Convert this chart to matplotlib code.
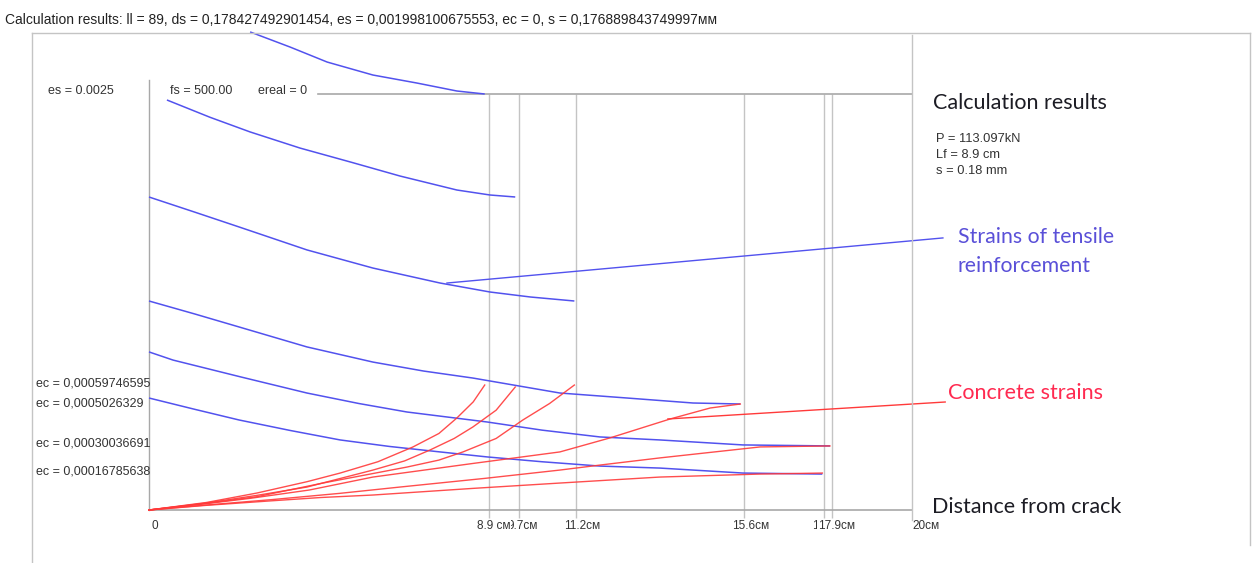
import matplotlib
matplotlib.use("Agg")
import matplotlib.pyplot as plt
from matplotlib.lines import Line2D

W, H = 1254, 563

# ---------------- data (x in cm, strain) ----------------
steel_x = [
    [2.65, 3.70, 4.67, 5.87, 7.02, 8.07, 8.80],
    [0.47, 1.60, 2.65, 3.96, 5.30, 6.58, 8.07, 8.94, 9.60],
    [0.00, 1.20, 2.36, 4.14, 5.87, 7.63, 8.94, 10.00, 11.15],
    [0.00, 1.20, 2.36, 4.14, 5.87, 7.20, 8.49, 10.77, 12.53, 14.26, 15.50],
    [0.00, 0.63, 2.40, 4.14, 5.50, 6.76, 8.86, 10.30, 11.82, 13.39, 15.57, 17.85],
    [0.00, 1.20, 2.36, 3.70, 5.01, 6.30, 7.63, 8.86, 10.30, 11.82, 13.39, 15.57, 17.65],
]
steel_y = [
    [0.002873, 0.002782, 0.002692, 0.002614, 0.002566, 0.002518, 0.002500],
    [0.002464, 0.002360, 0.002272, 0.002175, 0.002090, 0.002007, 0.001923, 0.001893, 0.001881],
    [0.001881, 0.001790, 0.001701, 0.001563, 0.001454, 0.001364, 0.001310, 0.001280, 0.001256],
    [0.001256, 0.001178, 0.001100, 0.000980, 0.000889, 0.000835, 0.000793, 0.000703, 0.000673, 0.000643, 0.000637],
    [0.000950, 0.000901, 0.000800, 0.000703, 0.000640, 0.000589, 0.000529, 0.000480, 0.000439, 0.000421, 0.000391, 0.000385],
    [0.000673, 0.000605, 0.000541, 0.000478, 0.000421, 0.000382, 0.000349, 0.000319, 0.000290, 0.000264, 0.000252, 0.000222, 0.000216],
]

concrete_x = [
    [0.0, 1.50, 2.83, 4.14, 5.01, 6.00, 6.92, 7.60, 8.07, 8.50, 8.80],
    [0.0, 1.50, 2.83, 4.14, 5.87, 6.70, 7.37, 8.00, 8.49, 9.10, 9.60],
    [0.0, 1.50, 2.83, 4.56, 6.76, 7.60, 8.23, 9.10, 9.80, 10.50, 11.15],
    [0.0, 1.50, 2.65, 4.20, 5.87, 8.50, 10.77, 12.08, 13.66, 14.71, 15.50],
    [0.0, 1.50, 3.20, 5.00, 6.58, 8.80, 10.77, 11.82, 13.39, 16.02, 17.85],
    [0.0, 1.50, 3.20, 4.50, 5.87, 8.50, 10.77, 13.39, 16.02, 17.65],
]
concrete_y = [
    [0.0, 0.000045, 0.000102, 0.000170, 0.000222, 0.000290, 0.000379, 0.000460, 0.000553, 0.000650, 0.000751],
    [0.0, 0.000042, 0.000088, 0.000138, 0.000240, 0.000295, 0.000361, 0.000430, 0.000499, 0.000600, 0.000739],
    [0.0, 0.000040, 0.000080, 0.000162, 0.000258, 0.000300, 0.000349, 0.000430, 0.000541, 0.000640, 0.000751],
    [0.0, 0.000038, 0.000070, 0.000120, 0.000198, 0.000280, 0.000349, 0.000433, 0.000547, 0.000613, 0.000637],
    [0.0, 0.000030, 0.000062, 0.000100, 0.000138, 0.000190, 0.000240, 0.000270, 0.000313, 0.000379, 0.000385],
    [0.0, 0.000028, 0.000055, 0.000075, 0.000090, 0.000130, 0.000162, 0.000198, 0.000216, 0.000222],
]

tick_vals = [0, 9.7, 8.9, 11.2, 15.6, 17.7, 17.9, 20]
tick_labels = ["0", "9.7см", "8.9 см", "11.2см", "15.6см", "17.7см", "17.9см", "20см"]

ec_labels = ["ec = 0,00059746595", "ec = 0,0005026329", "ec = 0,00030036691", "ec = 0,00016785638"]
ec_label_py = [383, 403, 443, 472]

title = ("Calculation results: ll = 89, ds = 0,178427492901454, es = 0,001998100675553, "
         "ec = 0, s = 0,176889843749997мм")
results = ["P = 113.097kN", "Lf = 8.9 cm", "s = 0.18 mm"]

# ---------------- styling ----------------
BLUE = "#5252ee"
RED = "#ff3a3a"
GRID = "#c4c4c4"
AXC = "#a8a8a8"
SMALL = dict(family=["Liberation Sans", "DejaVu Sans"], fontsize=9, color="#333333")
BIG = ["Lato", "DejaVu Sans"]


def fx(px):
    return px / W


def fy(py):
    return 1 - py / H


fig = plt.figure(figsize=(W / 100, H / 100), dpi=100)
fig.patch.set_facecolor("white")

# outer frame
for xs, ys in [([32, 32], [33, 563]), ([32, 1250], [33, 33]), ([1250, 1250], [33, 545]),
               ([912, 912], [35, 520])]:
    fig.add_artist(Line2D([fx(v) for v in xs], [fy(v) for v in ys], color=GRID, lw=1.0))

ax = fig.add_axes([fx(149), fy(510), (912 - 149) / W, (510 - 94) / H])
ax.set_xlim(0, 20)
ax.set_ylim(0, 0.0025)
ax.axis("off")

# grid lines at ticks
ax.vlines([v for v in tick_vals if 0 < v < 20], -0.00005, 0.0025, color=GRID, lw=1.0, clip_on=False)
# axes lines
ax.plot([0, 0], [0, 0.002584], color=AXC, lw=1.0, clip_on=False)
ax.plot([0, 20], [0, 0], color=AXC, lw=1.2, clip_on=False)
ax.plot([4.43, 20], [0.0025, 0.0025], color=AXC, lw=1.2, clip_on=False)

for xs, ys in zip(steel_x, steel_y):
    ax.plot(xs, ys, color=BLUE, lw=1.1, clip_on=False, solid_capstyle="butt")
for xs, ys in zip(concrete_x, concrete_y):
    ax.plot(xs, ys, color=RED, lw=1.0, clip_on=False, alpha=0.9)

# annotation leader lines
ax.plot([7.81, 20.81], [0.001364, 0.001635], color=BLUE, lw=1.0, clip_on=False)
ax.plot([13.60, 20.87], [0.000547, 0.000649], color=RED, lw=1.0, clip_on=False)

# tick labels (later labels drawn on top of earlier ones, as in the original widget)
for i, (v, lab) in enumerate(zip(tick_vals, tick_labels)):
    off = 3 if v == 0 else (0 if v == 20 else -12)
    if v == 17.9:
        off = -14
    ax.annotate(lab, (v, 0), xytext=(off * 0.72, -7), textcoords="offset points",
                ha="left", va="top", zorder=5 + i,
                bbox=dict(boxstyle="square,pad=0.05", fc="white", ec="none"),
                **dict(SMALL, fontsize=8.5))

# texts
fig.text(fx(5), fy(20), title, ha="left", va="center", **dict(SMALL, fontsize=10, color="#222222"))
fig.text(fx(48), fy(91), "es = 0.0025", ha="left", va="center", **SMALL)
fig.text(fx(170), fy(91), "fs = 500.00", ha="left", va="center", **SMALL)
fig.text(fx(258), fy(91), "ereal = 0", ha="left", va="center", **SMALL)
for lab, py in zip(ec_labels, ec_label_py):
    fig.text(fx(36), fy(py), lab, ha="left", va="center", **SMALL)

fig.text(fx(933), fy(103), "Calculation results", ha="left", va="center",
         family=BIG, fontsize=15.5, color="#1c1c24")
for i, t in enumerate(results):
    fig.text(fx(936), fy(139 + 16 * i), t, ha="left", va="center", **dict(SMALL, fontsize=9.3))
fig.text(fx(958), fy(237), "Strains of tensile", ha="left", va="center",
         family=BIG, fontsize=15.3, color="#5a50d8")
fig.text(fx(958), fy(266), "reinforcement", ha="left", va="center",
         family=BIG, fontsize=15.3, color="#5a50d8")
fig.text(fx(948), fy(393), "Concrete strains", ha="left", va="center",
         family=BIG, fontsize=15.5, color="#ff2a50")
fig.text(fx(932), fy(507), "Distance from crack", ha="left", va="center",
         family=BIG, fontsize=15.5, color="#1c1c24")

fig.savefig("out.png", dpi=100, facecolor="white")
